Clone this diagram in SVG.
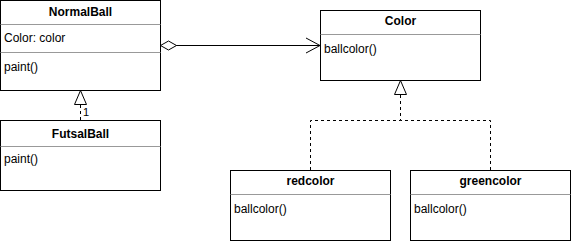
<svg xmlns="http://www.w3.org/2000/svg" width="571" height="242" viewBox="0 0 571 242">
  <style>
    .box { fill: #ffffff; stroke: #000000; stroke-width: 1; }
    .sep { stroke: #999999; stroke-width: 1; }
    .title { font-family: "Liberation Sans", Arial, sans-serif; font-size: 12px; font-weight: bold; text-anchor: middle; fill: #000000; }
    .member { font-family: "Liberation Sans", Arial, sans-serif; font-size: 12px; fill: #000000; }
    .edge { fill: none; stroke: #000000; stroke-width: 1; }
    .dashed { stroke-dasharray: 3 3; }
    .lbl { font-family: "Liberation Sans", Arial, sans-serif; font-size: 11px; fill: #000000; }
  </style>
  <defs>
    <marker id="openArrow" markerWidth="16" markerHeight="18" refX="15" refY="9" orient="auto" markerUnits="userSpaceOnUse">
      <path d="M1,1.5 L15,9 L1,16.5" fill="none" stroke="#000000" stroke-width="1"/>
    </marker>
    <marker id="diamond" markerWidth="18" markerHeight="12" refX="1" refY="6" orient="auto" markerUnits="userSpaceOnUse">
      <path d="M1,6 L9,1.5 L17,6 L9,10.5 Z" fill="#ffffff" stroke="#000000" stroke-width="1"/>
    </marker>
    <marker id="hollowTri" markerWidth="16" markerHeight="14" refX="15" refY="7" orient="auto" markerUnits="userSpaceOnUse">
      <path d="M1,1 L15,7 L1,13 Z" fill="#ffffff" stroke="#000000" stroke-width="1"/>
    </marker>
  </defs>

  <g id="connectors">
    <!-- aggregation NormalBall -> Color -->
    <path class="edge" d="M160.5,45.5 L320,45.5" marker-start="url(#diamond)" marker-end="url(#openArrow)"/>
    <!-- FutsalBall realizes NormalBall -->
    <path class="edge dashed" d="M80.5,120 L80.5,90.5" marker-end="url(#hollowTri)"/>
    <text class="lbl" x="83" y="115.5">1</text>
    <!-- redcolor / greencolor realize Color -->
    <path class="edge dashed" d="M310.5,170 L310.5,120.5 L400.5,120.5 L400.5,80.5" marker-end="url(#hollowTri)"/>
    <path class="edge dashed" d="M490.5,170 L490.5,120.5 L400.5,120.5"/>
  </g>

  <g id="NormalBall">
    <rect class="box" x="0.5" y="0.5" width="160" height="90"/>
    <line class="sep" x1="0.5" y1="24.5" x2="160.5" y2="24.5"/>
    <line class="sep" x1="0.5" y1="52.5" x2="160.5" y2="52.5"/>
    <text class="title" x="80.5" y="16">NormalBall</text>
    <text class="member" x="4" y="42">Color: color</text>
    <text class="member" x="4" y="71">paint()</text>
  </g>

  <g id="FutsalBall">
    <rect class="box" x="0.5" y="120.5" width="160" height="70"/>
    <line class="sep" x1="0.5" y1="146.5" x2="160.5" y2="146.5"/>
    <text class="title" x="80.5" y="138">FutsalBall</text>
    <text class="member" x="4" y="163">paint()</text>
  </g>

  <g id="Color">
    <rect class="box" x="320.5" y="10.5" width="160" height="70"/>
    <line class="sep" x1="320.5" y1="34.5" x2="480.5" y2="34.5"/>
    <text class="title" x="400.5" y="25">Color</text>
    <text class="member" x="324" y="53">ballcolor()</text>
  </g>

  <g id="redcolor">
    <rect class="box" x="230.5" y="170.5" width="160" height="70"/>
    <line class="sep" x1="230.5" y1="194.5" x2="390.5" y2="194.5"/>
    <text class="title" x="310.5" y="185">redcolor</text>
    <text class="member" x="234" y="213">ballcolor()</text>
  </g>

  <g id="greencolor">
    <rect class="box" x="410.5" y="170.5" width="160" height="70"/>
    <line class="sep" x1="410.5" y1="194.5" x2="570.5" y2="194.5"/>
    <text class="title" x="490.5" y="185">greencolor</text>
    <text class="member" x="414" y="213">ballcolor()</text>
  </g>
</svg>
